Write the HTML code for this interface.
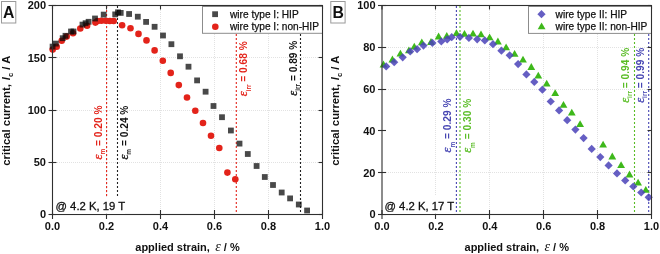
<!DOCTYPE html>
<html><head><meta charset="utf-8"><style>
html,body{margin:0;padding:0;background:#fff;width:660px;height:254px;overflow:hidden}
svg{display:block;will-change:transform}
</style></head><body>
<svg width="660" height="254" viewBox="0 0 660 254">
<rect width="660" height="254" fill="#fff"/>
<line x1="106.50" y1="6" x2="106.50" y2="214" stroke="#e2e2e2" stroke-width="1" stroke-dasharray="1 1"/>
<line x1="160.50" y1="6" x2="160.50" y2="214" stroke="#e2e2e2" stroke-width="1" stroke-dasharray="1 1"/>
<line x1="214.50" y1="6" x2="214.50" y2="214" stroke="#e2e2e2" stroke-width="1" stroke-dasharray="1 1"/>
<line x1="268.50" y1="6" x2="268.50" y2="214" stroke="#e2e2e2" stroke-width="1" stroke-dasharray="1 1"/>
<line x1="53" y1="162.50" x2="322" y2="162.50" stroke="#e2e2e2" stroke-width="1" stroke-dasharray="1 1"/>
<line x1="53" y1="110.50" x2="322" y2="110.50" stroke="#e2e2e2" stroke-width="1" stroke-dasharray="1 1"/>
<line x1="53" y1="57.50" x2="322" y2="57.50" stroke="#e2e2e2" stroke-width="1" stroke-dasharray="1 1"/>
<line x1="106.6" y1="6" x2="106.6" y2="214" stroke="#e3231a" stroke-width="1.1" stroke-dasharray="2 2"/>
<line x1="117.5" y1="6" x2="117.5" y2="214" stroke="#222" stroke-width="1.1" stroke-dasharray="2 2"/>
<line x1="236.3" y1="6" x2="236.3" y2="214" stroke="#e3231a" stroke-width="1.1" stroke-dasharray="2 2"/>
<line x1="300.5" y1="6" x2="300.5" y2="214" stroke="#222" stroke-width="1.1" stroke-dasharray="2 2"/>
<text transform="translate(101.8,132.5) rotate(-90)" font-family='"Liberation Sans", sans-serif' font-weight="bold" font-size="10.2" text-anchor="middle" fill="#e3231a"><tspan font-family='"Liberation Serif", serif' font-style="italic" font-weight="normal" font-size="12.5" stroke="#e3231a" stroke-width="0.35">ε</tspan><tspan font-size="6.5" dy="3.6">m</tspan><tspan dy="-3.6"> = 0.20 %</tspan></text>
<text transform="translate(127.8,132.6) rotate(-90)" font-family='"Liberation Sans", sans-serif' font-weight="bold" font-size="10.2" text-anchor="middle" fill="#111"><tspan font-family='"Liberation Serif", serif' font-style="italic" font-weight="normal" font-size="12.5" stroke="#111" stroke-width="0.35">ε</tspan><tspan font-size="6.5" dy="3.6">m</tspan><tspan dy="-3.6"> = 0.24 %</tspan></text>
<text transform="translate(246.9,68.8) rotate(-90)" font-family='"Liberation Sans", sans-serif' font-weight="bold" font-size="10.2" text-anchor="middle" fill="#e3231a"><tspan font-family='"Liberation Serif", serif' font-style="italic" font-weight="normal" font-size="12.5" stroke="#e3231a" stroke-width="0.35">ε</tspan><tspan font-size="6.5" dy="3.6">irr</tspan><tspan dy="-3.6"> = 0.68 %</tspan></text>
<text transform="translate(296.5,68.2) rotate(-90)" font-family='"Liberation Sans", sans-serif' font-weight="bold" font-size="10.2" text-anchor="middle" fill="#111"><tspan font-family='"Liberation Serif", serif' font-style="italic" font-weight="normal" font-size="12.5" stroke="#111" stroke-width="0.35">ε</tspan><tspan font-size="6.5" dy="3.6">irr</tspan><tspan dy="-3.6"> = 0.89 %</tspan></text>
<circle cx="52.70" cy="49.60" r="3.3" fill="#e3231a"/>
<circle cx="56.70" cy="46.80" r="3.3" fill="#e3231a"/>
<circle cx="61.70" cy="40.80" r="3.3" fill="#e3231a"/>
<circle cx="66.70" cy="36.60" r="3.3" fill="#e3231a"/>
<circle cx="73.00" cy="33.30" r="3.3" fill="#e3231a"/>
<circle cx="80.30" cy="28.50" r="3.3" fill="#e3231a"/>
<circle cx="87.10" cy="25.80" r="3.3" fill="#e3231a"/>
<circle cx="95.40" cy="22.60" r="3.3" fill="#e3231a"/>
<circle cx="97.50" cy="21.00" r="3.3" fill="#e3231a"/>
<circle cx="101.40" cy="20.80" r="3.3" fill="#e3231a"/>
<circle cx="105.80" cy="20.80" r="3.3" fill="#e3231a"/>
<circle cx="109.80" cy="21.00" r="3.3" fill="#e3231a"/>
<circle cx="113.70" cy="21.00" r="3.3" fill="#e3231a"/>
<circle cx="122.10" cy="25.20" r="3.3" fill="#e3231a"/>
<circle cx="130.50" cy="28.30" r="3.3" fill="#e3231a"/>
<circle cx="138.50" cy="33.90" r="3.3" fill="#e3231a"/>
<circle cx="146.50" cy="40.40" r="3.3" fill="#e3231a"/>
<circle cx="154.60" cy="50.40" r="3.3" fill="#e3231a"/>
<circle cx="162.80" cy="60.70" r="3.3" fill="#e3231a"/>
<circle cx="170.70" cy="72.90" r="3.3" fill="#e3231a"/>
<circle cx="178.80" cy="85.10" r="3.3" fill="#e3231a"/>
<circle cx="187.00" cy="97.50" r="3.3" fill="#e3231a"/>
<circle cx="195.30" cy="110.70" r="3.3" fill="#e3231a"/>
<circle cx="203.00" cy="123.00" r="3.3" fill="#e3231a"/>
<circle cx="211.00" cy="135.80" r="3.3" fill="#e3231a"/>
<circle cx="219.30" cy="148.00" r="3.3" fill="#e3231a"/>
<circle cx="227.40" cy="172.60" r="3.3" fill="#e3231a"/>
<circle cx="235.30" cy="179.30" r="3.3" fill="#e3231a"/>
<rect x="49.70" y="43.70" width="5.8" height="5.8" fill="#0a0a0a" fill-opacity="0.74"/>
<rect x="53.00" y="40.70" width="5.8" height="5.8" fill="#0a0a0a" fill-opacity="0.74"/>
<rect x="59.80" y="35.30" width="5.8" height="5.8" fill="#0a0a0a" fill-opacity="0.74"/>
<rect x="62.60" y="32.90" width="5.8" height="5.8" fill="#0a0a0a" fill-opacity="0.74"/>
<rect x="68.10" y="28.60" width="5.8" height="5.8" fill="#0a0a0a" fill-opacity="0.74"/>
<rect x="70.60" y="28.60" width="5.8" height="5.8" fill="#0a0a0a" fill-opacity="0.74"/>
<rect x="79.60" y="21.70" width="5.8" height="5.8" fill="#0a0a0a" fill-opacity="0.74"/>
<rect x="82.70" y="20.30" width="5.8" height="5.8" fill="#0a0a0a" fill-opacity="0.74"/>
<rect x="85.70" y="18.90" width="5.8" height="5.8" fill="#0a0a0a" fill-opacity="0.74"/>
<rect x="92.10" y="15.60" width="5.8" height="5.8" fill="#0a0a0a" fill-opacity="0.74"/>
<rect x="100.80" y="11.70" width="5.8" height="5.8" fill="#0a0a0a" fill-opacity="0.74"/>
<rect x="112.30" y="11.50" width="5.8" height="5.8" fill="#0a0a0a" fill-opacity="0.74"/>
<rect x="115.10" y="9.40" width="5.8" height="5.8" fill="#0a0a0a" fill-opacity="0.74"/>
<rect x="117.80" y="10.00" width="5.8" height="5.8" fill="#0a0a0a" fill-opacity="0.74"/>
<rect x="126.20" y="11.10" width="5.8" height="5.8" fill="#0a0a0a" fill-opacity="0.74"/>
<rect x="134.90" y="13.80" width="5.8" height="5.8" fill="#0a0a0a" fill-opacity="0.74"/>
<rect x="143.20" y="19.00" width="5.8" height="5.8" fill="#0a0a0a" fill-opacity="0.74"/>
<rect x="151.70" y="23.90" width="5.8" height="5.8" fill="#0a0a0a" fill-opacity="0.74"/>
<rect x="160.10" y="32.60" width="5.8" height="5.8" fill="#0a0a0a" fill-opacity="0.74"/>
<rect x="168.50" y="41.30" width="5.8" height="5.8" fill="#0a0a0a" fill-opacity="0.74"/>
<rect x="177.10" y="53.40" width="5.8" height="5.8" fill="#0a0a0a" fill-opacity="0.74"/>
<rect x="185.60" y="63.80" width="5.8" height="5.8" fill="#0a0a0a" fill-opacity="0.74"/>
<rect x="194.20" y="77.50" width="5.8" height="5.8" fill="#0a0a0a" fill-opacity="0.74"/>
<rect x="202.70" y="88.80" width="5.8" height="5.8" fill="#0a0a0a" fill-opacity="0.74"/>
<rect x="210.60" y="103.10" width="5.8" height="5.8" fill="#0a0a0a" fill-opacity="0.74"/>
<rect x="219.10" y="114.30" width="5.8" height="5.8" fill="#0a0a0a" fill-opacity="0.74"/>
<rect x="228.00" y="127.60" width="5.8" height="5.8" fill="#0a0a0a" fill-opacity="0.74"/>
<rect x="236.60" y="140.70" width="5.8" height="5.8" fill="#0a0a0a" fill-opacity="0.74"/>
<rect x="244.90" y="151.10" width="5.8" height="5.8" fill="#0a0a0a" fill-opacity="0.74"/>
<rect x="253.70" y="163.10" width="5.8" height="5.8" fill="#0a0a0a" fill-opacity="0.74"/>
<rect x="261.90" y="174.10" width="5.8" height="5.8" fill="#0a0a0a" fill-opacity="0.74"/>
<rect x="270.10" y="182.10" width="5.8" height="5.8" fill="#0a0a0a" fill-opacity="0.74"/>
<rect x="278.80" y="189.60" width="5.8" height="5.8" fill="#0a0a0a" fill-opacity="0.74"/>
<rect x="287.20" y="195.50" width="5.8" height="5.8" fill="#0a0a0a" fill-opacity="0.74"/>
<rect x="295.90" y="201.60" width="5.8" height="5.8" fill="#0a0a0a" fill-opacity="0.74"/>
<rect x="304.20" y="207.60" width="5.8" height="5.8" fill="#0a0a0a" fill-opacity="0.74"/>
<line x1="52.50" y1="210.0" x2="52.50" y2="219.0" stroke="#2f2f2f" stroke-width="1.1"/>
<line x1="52.50" y1="5.5" x2="52.50" y2="9.5" stroke="#2f2f2f" stroke-width="1.1"/>
<text x="52.50" y="230" font-family='"Liberation Sans", sans-serif' font-weight="bold" font-size="11" text-anchor="middle" fill="#111">0.0</text>
<line x1="106.50" y1="210.0" x2="106.50" y2="219.0" stroke="#2f2f2f" stroke-width="1.1"/>
<line x1="106.50" y1="5.5" x2="106.50" y2="9.5" stroke="#2f2f2f" stroke-width="1.1"/>
<text x="106.50" y="230" font-family='"Liberation Sans", sans-serif' font-weight="bold" font-size="11" text-anchor="middle" fill="#111">0.2</text>
<line x1="160.50" y1="210.0" x2="160.50" y2="219.0" stroke="#2f2f2f" stroke-width="1.1"/>
<line x1="160.50" y1="5.5" x2="160.50" y2="9.5" stroke="#2f2f2f" stroke-width="1.1"/>
<text x="160.50" y="230" font-family='"Liberation Sans", sans-serif' font-weight="bold" font-size="11" text-anchor="middle" fill="#111">0.4</text>
<line x1="214.50" y1="210.0" x2="214.50" y2="219.0" stroke="#2f2f2f" stroke-width="1.1"/>
<line x1="214.50" y1="5.5" x2="214.50" y2="9.5" stroke="#2f2f2f" stroke-width="1.1"/>
<text x="214.50" y="230" font-family='"Liberation Sans", sans-serif' font-weight="bold" font-size="11" text-anchor="middle" fill="#111">0.6</text>
<line x1="268.50" y1="210.0" x2="268.50" y2="219.0" stroke="#2f2f2f" stroke-width="1.1"/>
<line x1="268.50" y1="5.5" x2="268.50" y2="9.5" stroke="#2f2f2f" stroke-width="1.1"/>
<text x="268.50" y="230" font-family='"Liberation Sans", sans-serif' font-weight="bold" font-size="11" text-anchor="middle" fill="#111">0.8</text>
<line x1="322.50" y1="210.0" x2="322.50" y2="219.0" stroke="#2f2f2f" stroke-width="1.1"/>
<line x1="322.50" y1="5.5" x2="322.50" y2="9.5" stroke="#2f2f2f" stroke-width="1.1"/>
<text x="322.50" y="230" font-family='"Liberation Sans", sans-serif' font-weight="bold" font-size="11" text-anchor="middle" fill="#111">1.0</text>
<line x1="48.5" y1="214.50" x2="56.5" y2="214.50" stroke="#2f2f2f" stroke-width="1.1"/>
<line x1="318.5" y1="214.50" x2="322.5" y2="214.50" stroke="#2f2f2f" stroke-width="1.1"/>
<text x="46.00" y="218.40" font-family='"Liberation Sans", sans-serif' font-weight="bold" font-size="11" text-anchor="end" fill="#111">0</text>
<line x1="48.5" y1="162.50" x2="56.5" y2="162.50" stroke="#2f2f2f" stroke-width="1.1"/>
<line x1="318.5" y1="162.50" x2="322.5" y2="162.50" stroke="#2f2f2f" stroke-width="1.1"/>
<text x="46.00" y="166.15" font-family='"Liberation Sans", sans-serif' font-weight="bold" font-size="11" text-anchor="end" fill="#111">50</text>
<line x1="48.5" y1="110.50" x2="56.5" y2="110.50" stroke="#2f2f2f" stroke-width="1.1"/>
<line x1="318.5" y1="110.50" x2="322.5" y2="110.50" stroke="#2f2f2f" stroke-width="1.1"/>
<text x="46.00" y="113.90" font-family='"Liberation Sans", sans-serif' font-weight="bold" font-size="11" text-anchor="end" fill="#111">100</text>
<line x1="48.5" y1="57.50" x2="56.5" y2="57.50" stroke="#2f2f2f" stroke-width="1.1"/>
<line x1="318.5" y1="57.50" x2="322.5" y2="57.50" stroke="#2f2f2f" stroke-width="1.1"/>
<text x="46.00" y="61.65" font-family='"Liberation Sans", sans-serif' font-weight="bold" font-size="11" text-anchor="end" fill="#111">150</text>
<line x1="48.5" y1="5.50" x2="56.5" y2="5.50" stroke="#2f2f2f" stroke-width="1.1"/>
<line x1="318.5" y1="5.50" x2="322.5" y2="5.50" stroke="#2f2f2f" stroke-width="1.1"/>
<text x="46.00" y="9.40" font-family='"Liberation Sans", sans-serif' font-weight="bold" font-size="11" text-anchor="end" fill="#111">200</text>
<text x="187.50" y="250.8" font-family='"Liberation Sans", sans-serif' font-weight="bold" font-size="11" text-anchor="middle" fill="#111">applied strain, <tspan dx="2.3" font-family='"Liberation Serif", serif' font-style="italic" font-weight="normal" font-size="14">ε</tspan> / %</text>
<text transform="translate(9.90,110.7) rotate(-90)" font-family='"Liberation Sans", sans-serif' font-weight="bold" font-size="11.3" text-anchor="middle" fill="#111">critical current, <tspan dx="0.8" font-style="italic">I</tspan><tspan font-size="7.5" dy="3">c</tspan><tspan dy="-3"> / A</tspan></text>
<rect x="1.5" y="1.5" width="14.3" height="21.5" fill="#fff" stroke="#9a9a9a" stroke-width="1"/>
<text x="8.8" y="17.9" font-family='"Liberation Sans", sans-serif' font-weight="bold" font-size="15.8" text-anchor="middle" fill="#111">A</text>
<rect x="202.5" y="6.5" width="120" height="26.8" fill="#fff" stroke="#8c8c8c" stroke-width="1"/>
<rect x="52.5" y="5.5" width="270.0" height="209" fill="none" stroke="#2f2f2f" stroke-width="1.1"/>
<rect x="212.20" y="11.30" width="5.8" height="5.8" fill="#0a0a0a" fill-opacity="0.74"/>
<circle cx="215.30" cy="26.80" r="3.3" fill="#e3231a"/>
<text x="230" y="17.6" font-family='"Liberation Sans", sans-serif' font-size="10.15" fill="#111" stroke="#111" stroke-width="0.25">wire type I: HIP</text>
<text x="230" y="30.2" font-family='"Liberation Sans", sans-serif' font-size="10.15" fill="#111" stroke="#111" stroke-width="0.25">wire type I: non-HIP</text>
<rect x="54" y="197" width="71" height="16.8" fill="#fff"/>
<text x="55.5" y="210.3" font-family='"Liberation Sans", sans-serif' font-size="11.3" fill="#111" stroke="#111" stroke-width="0.3">@ 4.2 K, 19 T</text>
<line x1="435.50" y1="6" x2="435.50" y2="214" stroke="#e2e2e2" stroke-width="1" stroke-dasharray="1 1"/>
<line x1="489.50" y1="6" x2="489.50" y2="214" stroke="#e2e2e2" stroke-width="1" stroke-dasharray="1 1"/>
<line x1="543.50" y1="6" x2="543.50" y2="214" stroke="#e2e2e2" stroke-width="1" stroke-dasharray="1 1"/>
<line x1="597.50" y1="6" x2="597.50" y2="214" stroke="#e2e2e2" stroke-width="1" stroke-dasharray="1 1"/>
<line x1="382" y1="172.50" x2="651" y2="172.50" stroke="#e2e2e2" stroke-width="1" stroke-dasharray="1 1"/>
<line x1="382" y1="89.50" x2="651" y2="89.50" stroke="#e2e2e2" stroke-width="1" stroke-dasharray="1 1"/>
<line x1="382" y1="47.50" x2="651" y2="47.50" stroke="#e2e2e2" stroke-width="1" stroke-dasharray="1 1"/>
<line x1="456.4" y1="6" x2="456.4" y2="214" stroke="#4645b2" stroke-width="1.1" stroke-dasharray="2 2"/>
<line x1="460.0" y1="6" x2="460.0" y2="214" stroke="#5abd26" stroke-width="1.1" stroke-dasharray="2 2"/>
<line x1="634.5" y1="6" x2="634.5" y2="214" stroke="#5abd26" stroke-width="1.1" stroke-dasharray="2 2"/>
<line x1="648.7" y1="6" x2="648.7" y2="214" stroke="#4645b2" stroke-width="1.1" stroke-dasharray="2 2"/>
<text transform="translate(451.3,125.5) rotate(-90)" font-family='"Liberation Sans", sans-serif' font-weight="bold" font-size="10.2" text-anchor="middle" fill="#4645b2"><tspan font-family='"Liberation Serif", serif' font-style="italic" font-weight="normal" font-size="12.5" stroke="#4645b2" stroke-width="0.35">ε</tspan><tspan font-size="6.5" dy="3.6">m</tspan><tspan dy="-3.6"> = 0.29 %</tspan></text>
<text transform="translate(471.2,125.8) rotate(-90)" font-family='"Liberation Sans", sans-serif' font-weight="bold" font-size="10.2" text-anchor="middle" fill="#5abd26"><tspan font-family='"Liberation Serif", serif' font-style="italic" font-weight="normal" font-size="12.5" stroke="#5abd26" stroke-width="0.35">ε</tspan><tspan font-size="6.5" dy="3.6">m</tspan><tspan dy="-3.6"> = 0.30 %</tspan></text>
<text transform="translate(628.7,75.3) rotate(-90)" font-family='"Liberation Sans", sans-serif' font-weight="bold" font-size="10.2" text-anchor="middle" fill="#5abd26"><tspan font-family='"Liberation Serif", serif' font-style="italic" font-weight="normal" font-size="12.5" stroke="#5abd26" stroke-width="0.35">ε</tspan><tspan font-size="6.5" dy="3.6">irr</tspan><tspan dy="-3.6"> = 0.94 %</tspan></text>
<text transform="translate(643.8,75.3) rotate(-90)" font-family='"Liberation Sans", sans-serif' font-weight="bold" font-size="10.2" text-anchor="middle" fill="#4645b2"><tspan font-family='"Liberation Serif", serif' font-style="italic" font-weight="normal" font-size="12.5" stroke="#4645b2" stroke-width="0.35">ε</tspan><tspan font-size="6.5" dy="3.6">irr</tspan><tspan dy="-3.6"> = 0.99 %</tspan></text>
<path d="M383.50 60.60L387.40 67.40L379.60 67.40Z" fill="#3eb81b"/>
<path d="M392.40 55.60L396.30 62.40L388.50 62.40Z" fill="#3eb81b"/>
<path d="M400.40 49.80L404.30 56.60L396.50 56.60Z" fill="#3eb81b"/>
<path d="M408.90 46.50L412.80 53.30L405.00 53.30Z" fill="#3eb81b"/>
<path d="M414.30 42.80L418.20 49.60L410.40 49.60Z" fill="#3eb81b"/>
<path d="M421.80 38.40L425.70 45.20L417.90 45.20Z" fill="#3eb81b"/>
<path d="M431.00 38.10L434.90 44.90L427.10 44.90Z" fill="#3eb81b"/>
<path d="M438.60 32.60L442.50 39.40L434.70 39.40Z" fill="#3eb81b"/>
<path d="M446.80 32.00L450.70 38.80L442.90 38.80Z" fill="#3eb81b"/>
<path d="M456.50 29.30L460.40 36.10L452.60 36.10Z" fill="#3eb81b"/>
<path d="M464.50 30.00L468.40 36.80L460.60 36.80Z" fill="#3eb81b"/>
<path d="M473.00 29.70L476.90 36.50L469.10 36.50Z" fill="#3eb81b"/>
<path d="M481.00 30.40L484.90 37.20L477.10 37.20Z" fill="#3eb81b"/>
<path d="M489.60 33.50L493.50 40.30L485.70 40.30Z" fill="#3eb81b"/>
<path d="M497.90 37.60L501.80 44.40L494.00 44.40Z" fill="#3eb81b"/>
<path d="M506.10 43.40L510.00 50.20L502.20 50.20Z" fill="#3eb81b"/>
<path d="M514.60 49.90L518.50 56.70L510.70 56.70Z" fill="#3eb81b"/>
<path d="M523.00 55.80L526.90 62.60L519.10 62.60Z" fill="#3eb81b"/>
<path d="M531.30 63.10L535.20 69.90L527.40 69.90Z" fill="#3eb81b"/>
<path d="M538.30 71.80L542.20 78.60L534.40 78.60Z" fill="#3eb81b"/>
<path d="M546.70 79.70L550.60 86.50L542.80 86.50Z" fill="#3eb81b"/>
<path d="M555.20 89.20L559.10 96.00L551.30 96.00Z" fill="#3eb81b"/>
<path d="M563.50 101.00L567.40 107.80L559.60 107.80Z" fill="#3eb81b"/>
<path d="M571.80 108.80L575.70 115.60L567.90 115.60Z" fill="#3eb81b"/>
<path d="M580.10 120.30L584.00 127.10L576.20 127.10Z" fill="#3eb81b"/>
<path d="M603.10 140.80L607.00 147.60L599.20 147.60Z" fill="#3eb81b"/>
<path d="M612.30 152.60L616.20 159.40L608.40 159.40Z" fill="#3eb81b"/>
<path d="M621.10 161.30L625.00 168.10L617.20 168.10Z" fill="#3eb81b"/>
<path d="M629.50 170.60L633.40 177.40L625.60 177.40Z" fill="#3eb81b"/>
<path d="M638.10 178.70L642.00 185.50L634.20 185.50Z" fill="#3eb81b"/>
<path d="M645.80 186.00L649.70 192.80L641.90 192.80Z" fill="#3eb81b"/>
<path d="M386.20 62.30L390.30 66.40L386.20 70.50L382.10 66.40Z" fill="#4a42b8" fill-opacity="0.85"/>
<path d="M394.20 58.10L398.30 62.20L394.20 66.30L390.10 62.20Z" fill="#4a42b8" fill-opacity="0.85"/>
<path d="M402.70 53.20L406.80 57.30L402.70 61.40L398.60 57.30Z" fill="#4a42b8" fill-opacity="0.85"/>
<path d="M410.20 47.40L414.30 51.50L410.20 55.60L406.10 51.50Z" fill="#4a42b8" fill-opacity="0.85"/>
<path d="M417.10 45.10L421.20 49.20L417.10 53.30L413.00 49.20Z" fill="#4a42b8" fill-opacity="0.85"/>
<path d="M423.50 41.50L427.60 45.60L423.50 49.70L419.40 45.60Z" fill="#4a42b8" fill-opacity="0.85"/>
<path d="M432.40 38.80L436.50 42.90L432.40 47.00L428.30 42.90Z" fill="#4a42b8" fill-opacity="0.85"/>
<path d="M441.30 37.30L445.40 41.40L441.30 45.50L437.20 41.40Z" fill="#4a42b8" fill-opacity="0.85"/>
<path d="M447.20 35.30L451.30 39.40L447.20 43.50L443.10 39.40Z" fill="#4a42b8" fill-opacity="0.85"/>
<path d="M451.70 33.10L455.80 37.20L451.70 41.30L447.60 37.20Z" fill="#4a42b8" fill-opacity="0.85"/>
<path d="M460.00 32.70L464.10 36.80L460.00 40.90L455.90 36.80Z" fill="#4a42b8" fill-opacity="0.85"/>
<path d="M468.90 33.80L473.00 37.90L468.90 42.00L464.80 37.90Z" fill="#4a42b8" fill-opacity="0.85"/>
<path d="M477.20 35.20L481.30 39.30L477.20 43.40L473.10 39.30Z" fill="#4a42b8" fill-opacity="0.85"/>
<path d="M484.80 36.30L488.90 40.40L484.80 44.50L480.70 40.40Z" fill="#4a42b8" fill-opacity="0.85"/>
<path d="M493.00 40.10L497.10 44.20L493.00 48.30L488.90 44.20Z" fill="#4a42b8" fill-opacity="0.85"/>
<path d="M501.40 46.60L505.50 50.70L501.40 54.80L497.30 50.70Z" fill="#4a42b8" fill-opacity="0.85"/>
<path d="M509.70 51.20L513.80 55.30L509.70 59.40L505.60 55.30Z" fill="#4a42b8" fill-opacity="0.85"/>
<path d="M518.10 60.00L522.20 64.10L518.10 68.20L514.00 64.10Z" fill="#4a42b8" fill-opacity="0.85"/>
<path d="M526.40 70.30L530.50 74.40L526.40 78.50L522.30 74.40Z" fill="#4a42b8" fill-opacity="0.85"/>
<path d="M534.30 77.80L538.40 81.90L534.30 86.00L530.20 81.90Z" fill="#4a42b8" fill-opacity="0.85"/>
<path d="M542.40 85.60L546.50 89.70L542.40 93.80L538.30 89.70Z" fill="#4a42b8" fill-opacity="0.85"/>
<path d="M550.70 97.40L554.80 101.50L550.70 105.60L546.60 101.50Z" fill="#4a42b8" fill-opacity="0.85"/>
<path d="M559.10 106.30L563.20 110.40L559.10 114.50L555.00 110.40Z" fill="#4a42b8" fill-opacity="0.85"/>
<path d="M567.20 116.10L571.30 120.20L567.20 124.30L563.10 120.20Z" fill="#4a42b8" fill-opacity="0.85"/>
<path d="M575.40 125.50L579.50 129.60L575.40 133.70L571.30 129.60Z" fill="#4a42b8" fill-opacity="0.85"/>
<path d="M583.60 134.00L587.70 138.10L583.60 142.20L579.50 138.10Z" fill="#4a42b8" fill-opacity="0.85"/>
<path d="M591.70 144.80L595.80 148.90L591.70 153.00L587.60 148.90Z" fill="#4a42b8" fill-opacity="0.85"/>
<path d="M600.30 153.00L604.40 157.10L600.30 161.20L596.20 157.10Z" fill="#4a42b8" fill-opacity="0.85"/>
<path d="M608.60 161.30L612.70 165.40L608.60 169.50L604.50 165.40Z" fill="#4a42b8" fill-opacity="0.85"/>
<path d="M617.00 169.30L621.10 173.40L617.00 177.50L612.90 173.40Z" fill="#4a42b8" fill-opacity="0.85"/>
<path d="M625.20 176.30L629.30 180.40L625.20 184.50L621.10 180.40Z" fill="#4a42b8" fill-opacity="0.85"/>
<path d="M633.30 182.40L637.40 186.50L633.30 190.60L629.20 186.50Z" fill="#4a42b8" fill-opacity="0.85"/>
<path d="M641.20 188.40L645.30 192.50L641.20 196.60L637.10 192.50Z" fill="#4a42b8" fill-opacity="0.85"/>
<path d="M648.70 193.20L652.80 197.30L648.70 201.40L644.60 197.30Z" fill="#4a42b8" fill-opacity="0.85"/>
<line x1="382.00" y1="210.0" x2="382.00" y2="219.0" stroke="#2f2f2f" stroke-width="1.1"/>
<line x1="382.00" y1="5.5" x2="382.00" y2="9.5" stroke="#2f2f2f" stroke-width="1.1"/>
<text x="382.00" y="230" font-family='"Liberation Sans", sans-serif' font-weight="bold" font-size="11" text-anchor="middle" fill="#111">0.0</text>
<line x1="435.50" y1="210.0" x2="435.50" y2="219.0" stroke="#2f2f2f" stroke-width="1.1"/>
<line x1="435.50" y1="5.5" x2="435.50" y2="9.5" stroke="#2f2f2f" stroke-width="1.1"/>
<text x="435.90" y="230" font-family='"Liberation Sans", sans-serif' font-weight="bold" font-size="11" text-anchor="middle" fill="#111">0.2</text>
<line x1="489.50" y1="210.0" x2="489.50" y2="219.0" stroke="#2f2f2f" stroke-width="1.1"/>
<line x1="489.50" y1="5.5" x2="489.50" y2="9.5" stroke="#2f2f2f" stroke-width="1.1"/>
<text x="489.80" y="230" font-family='"Liberation Sans", sans-serif' font-weight="bold" font-size="11" text-anchor="middle" fill="#111">0.4</text>
<line x1="543.50" y1="210.0" x2="543.50" y2="219.0" stroke="#2f2f2f" stroke-width="1.1"/>
<line x1="543.50" y1="5.5" x2="543.50" y2="9.5" stroke="#2f2f2f" stroke-width="1.1"/>
<text x="543.70" y="230" font-family='"Liberation Sans", sans-serif' font-weight="bold" font-size="11" text-anchor="middle" fill="#111">0.6</text>
<line x1="597.50" y1="210.0" x2="597.50" y2="219.0" stroke="#2f2f2f" stroke-width="1.1"/>
<line x1="597.50" y1="5.5" x2="597.50" y2="9.5" stroke="#2f2f2f" stroke-width="1.1"/>
<text x="597.60" y="230" font-family='"Liberation Sans", sans-serif' font-weight="bold" font-size="11" text-anchor="middle" fill="#111">0.8</text>
<line x1="651.50" y1="210.0" x2="651.50" y2="219.0" stroke="#2f2f2f" stroke-width="1.1"/>
<line x1="651.50" y1="5.5" x2="651.50" y2="9.5" stroke="#2f2f2f" stroke-width="1.1"/>
<text x="651.50" y="230" font-family='"Liberation Sans", sans-serif' font-weight="bold" font-size="11" text-anchor="middle" fill="#111">1.0</text>
<line x1="378.0" y1="214.50" x2="386.0" y2="214.50" stroke="#2f2f2f" stroke-width="1.1"/>
<line x1="647.5" y1="214.50" x2="651.5" y2="214.50" stroke="#2f2f2f" stroke-width="1.1"/>
<text x="375.50" y="218.40" font-family='"Liberation Sans", sans-serif' font-weight="bold" font-size="11" text-anchor="end" fill="#111">0</text>
<line x1="378.0" y1="172.50" x2="386.0" y2="172.50" stroke="#2f2f2f" stroke-width="1.1"/>
<line x1="647.5" y1="172.50" x2="651.5" y2="172.50" stroke="#2f2f2f" stroke-width="1.1"/>
<text x="375.50" y="176.60" font-family='"Liberation Sans", sans-serif' font-weight="bold" font-size="11" text-anchor="end" fill="#111">20</text>
<line x1="378.0" y1="130.50" x2="386.0" y2="130.50" stroke="#2f2f2f" stroke-width="1.1"/>
<line x1="647.5" y1="130.50" x2="651.5" y2="130.50" stroke="#2f2f2f" stroke-width="1.1"/>
<text x="375.50" y="134.80" font-family='"Liberation Sans", sans-serif' font-weight="bold" font-size="11" text-anchor="end" fill="#111">40</text>
<line x1="378.0" y1="89.50" x2="386.0" y2="89.50" stroke="#2f2f2f" stroke-width="1.1"/>
<line x1="647.5" y1="89.50" x2="651.5" y2="89.50" stroke="#2f2f2f" stroke-width="1.1"/>
<text x="375.50" y="93.00" font-family='"Liberation Sans", sans-serif' font-weight="bold" font-size="11" text-anchor="end" fill="#111">60</text>
<line x1="378.0" y1="47.50" x2="386.0" y2="47.50" stroke="#2f2f2f" stroke-width="1.1"/>
<line x1="647.5" y1="47.50" x2="651.5" y2="47.50" stroke="#2f2f2f" stroke-width="1.1"/>
<text x="375.50" y="51.20" font-family='"Liberation Sans", sans-serif' font-weight="bold" font-size="11" text-anchor="end" fill="#111">80</text>
<line x1="378.0" y1="5.50" x2="386.0" y2="5.50" stroke="#2f2f2f" stroke-width="1.1"/>
<line x1="647.5" y1="5.50" x2="651.5" y2="5.50" stroke="#2f2f2f" stroke-width="1.1"/>
<text x="375.50" y="9.40" font-family='"Liberation Sans", sans-serif' font-weight="bold" font-size="11" text-anchor="end" fill="#111">100</text>
<text x="516.75" y="250.8" font-family='"Liberation Sans", sans-serif' font-weight="bold" font-size="11" text-anchor="middle" fill="#111">applied strain, <tspan dx="2.3" font-family='"Liberation Serif", serif' font-style="italic" font-weight="normal" font-size="14">ε</tspan> / %</text>
<text transform="translate(339.20,110.7) rotate(-90)" font-family='"Liberation Sans", sans-serif' font-weight="bold" font-size="11.3" text-anchor="middle" fill="#111">critical current, <tspan dx="0.8" font-style="italic">I</tspan><tspan font-size="7.5" dy="3">c</tspan><tspan dy="-3"> / A</tspan></text>
<rect x="330.8" y="1.5" width="14.3" height="21.5" fill="#fff" stroke="#9a9a9a" stroke-width="1"/>
<text x="338.1" y="17.9" font-family='"Liberation Sans", sans-serif' font-weight="bold" font-size="15.8" text-anchor="middle" fill="#111">B</text>
<rect x="528.5" y="6.5" width="123" height="26.9" fill="#fff" stroke="#8c8c8c" stroke-width="1"/>
<rect x="382.0" y="5.5" width="269.5" height="209" fill="none" stroke="#2f2f2f" stroke-width="1.1"/>
<path d="M541.50 10.10L545.60 14.20L541.50 18.30L537.40 14.20Z" fill="#4a42b8" fill-opacity="0.85"/>
<path d="M541.60 22.40L545.50 29.20L537.70 29.20Z" fill="#3eb81b"/>
<text x="555.6" y="17.6" font-family='"Liberation Sans", sans-serif' font-size="10.15" fill="#111" stroke="#111" stroke-width="0.25">wire type II: HIP</text>
<text x="555.6" y="30.2" font-family='"Liberation Sans", sans-serif' font-size="10.15" fill="#111" stroke="#111" stroke-width="0.25">wire type II: non-HIP</text>
<rect x="383" y="196" width="71" height="17.8" fill="#fff"/>
<text x="384.5" y="210.3" font-family='"Liberation Sans", sans-serif' font-size="11.3" fill="#111" stroke="#111" stroke-width="0.3">@ 4.2 K, 17 T</text>
</svg>
</body></html>
